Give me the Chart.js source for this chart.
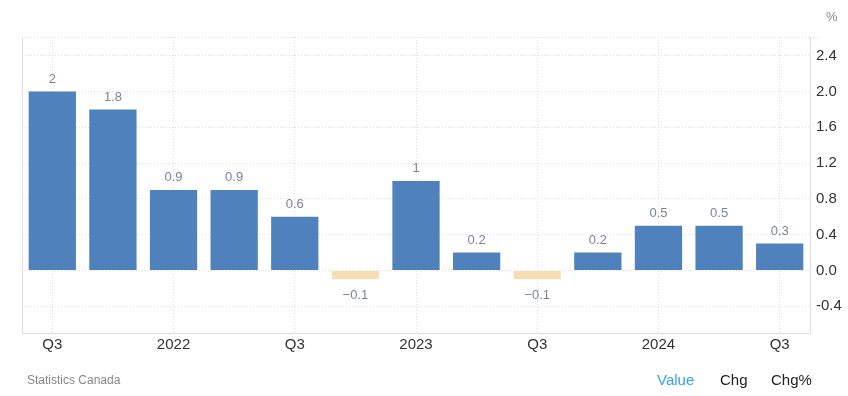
<!DOCTYPE html>
<html><head><meta charset="utf-8">
<script src="https://cdn.jsdelivr.net/npm/chart.js@4/dist/chart.umd.min.js"></script>
<style>
html,body{margin:0;padding:0;background:#fff;}
#wrap{position:relative;width:848px;height:396px;font-family:"Liberation Sans",Arial,sans-serif;}
canvas{position:absolute;left:0;top:0;}
.t{position:absolute;white-space:nowrap;}
</style></head><body>
<div id="wrap">
<canvas id="c" width="848" height="396"></canvas>
<div class="t" style="left:826px;top:9px;font-size:13px;color:#888;">%</div>
<div class="t" style="left:27px;top:373px;font-size:12px;color:#888;">Statistics Canada</div>
<div class="t" style="left:657px;top:371px;font-size:15px;color:#3a9bf0;">Value</div>
<div class="t" style="left:720px;top:371px;font-size:15px;color:#222;">Chg</div>
<div class="t" style="left:771px;top:371px;font-size:15px;color:#222;">Chg%</div>
</div>
<script>
const categories = ['2021 Q3','2021 Q4','2022 Q1','2022 Q2','2022 Q3','2022 Q4','2023 Q1','2023 Q2','2023 Q3','2023 Q4','2024 Q1','2024 Q2','2024 Q3'];
const tickLabels = ['Q3','','2022','','Q3','','2023','','Q3','','2024','','Q3'];
const values = [2, 1.8, 0.9, 0.9, 0.6, -0.1, 1, 0.2, -0.1, 0.2, 0.5, 0.5, 0.3];
const yTicks = [-0.4, 0, 0.4, 0.8, 1.2, 1.6, 2.0, 2.4];

const labelPlugin = {
  id: 'vlabels',
  afterDatasetsDraw(chart) {
    const ctx = chart.ctx;
    const meta = chart.getDatasetMeta(0);
    ctx.save();
    ctx.font = '13px "Liberation Sans", Arial, sans-serif';
    ctx.fillStyle = '#7a8496';
    ctx.textAlign = 'center';
    meta.data.forEach((bar, i) => {
      const v = values[i];
      const txt = v < 0 ? '\u2212' + String(Math.abs(v)) : String(v);
      if (v >= 0) { ctx.textBaseline = 'bottom'; ctx.fillText(txt, bar.x, bar.y - 6); }
      else { ctx.textBaseline = 'top'; ctx.fillText(txt, bar.x, bar.y + 10); }
    });
    ctx.restore();
  },
  beforeDatasetsDraw(chart) {
    const ctx = chart.ctx, a = chart.chartArea;
    ctx.save();
    ctx.strokeStyle = '#dddddd';
    ctx.lineWidth = 1;
    ctx.setLineDash([1, 2]);
    ctx.beginPath(); ctx.moveTo(a.left, a.top + 0.5); ctx.lineTo(a.right + 10, a.top + 0.5); ctx.stroke();
    ctx.setLineDash([]);
    ctx.beginPath(); ctx.moveTo(a.left + 0.5, a.top); ctx.lineTo(a.left + 0.5, a.bottom); ctx.stroke();
    ctx.restore();
  }
};

new Chart(document.getElementById('c'), {
  type: 'bar',
  data: {
    labels: categories,
    datasets: [{
      data: values,
      backgroundColor: values.map(v => v < 0 ? '#f5deb3' : '#4f81bd'),
      categoryPercentage: 1,
      barPercentage: 0.78
    }]
  },
  options: {
    responsive: false,
    animation: false,
    layout: { padding: { top: 37, left: 22, right: 0, bottom: 0 } },
    plugins: { legend: { display: false }, tooltip: { enabled: false } },
    scales: {
      x: {
        offset: true,
        grid: {
          offset: false,
          drawTicks: false,
          color: ctx => (ctx.index % 2 === 0 ? '#dddddd' : 'rgba(0,0,0,0)')
        },
        border: { display: true, color: '#dddddd', dash: [1, 2] },
        ticks: {
          autoSkip: false, maxRotation: 0, padding: 3,
          color: '#333', font: { size: 15, family: '"Liberation Sans", Arial, sans-serif' },
          callback: (v, i) => tickLabels[i]
        },
        afterFit: s => { s.height = 63; }
      },
      y: {
        position: 'right',
        min: -0.7, max: 2.61,
        afterBuildTicks: s => { s.ticks = yTicks.map(v => ({ value: v })); },
        grid: { drawTicks: false, color: '#dddddd' },
        border: { display: true, color: '#dddddd', dash: [1, 2] },
        ticks: {
          padding: 6, color: '#333',
          font: { size: 15, family: '"Liberation Sans", Arial, sans-serif' },
          callback: v => v.toFixed(1)
        },
        afterFit: s => { s.width = 38; }
      }
    }
  },
  plugins: [labelPlugin]
});
</script>
</body></html>
